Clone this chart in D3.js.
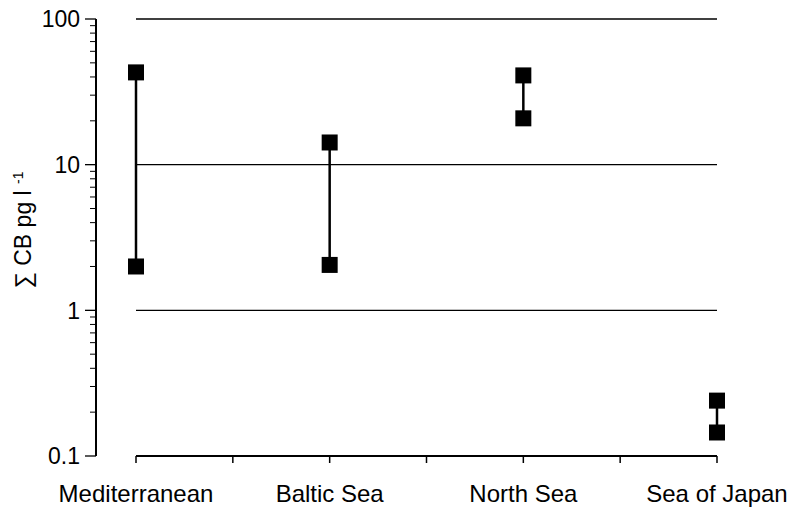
<!DOCTYPE html>
<html>
<head>
<meta charset="utf-8">
<script src="https://cdn.jsdelivr.net/npm/d3@7"></script>
<style>
    body { margin: 0; background: #fff; }
    svg { display: block; font-family: "Liberation Sans", Arial, sans-serif; }
</style>
</head>
<body>
<div id="chart"></div>
<script>
// sea regions and their min / max sum of CB concentrations (pg/l)
const regions = ['Mediterranean', 'Baltic Sea', 'North Sea', 'Sea of Japan'];
const highValues = [43, 14.2, 41, 0.24];
const lowValues = [2.0, 2.05, 20.8, 0.145];
const yTicks = [0.1, 1, 10, 100];
const yTickLabels = ['0.1', '1', '10', '100'];

const width = 789;
const height = 515;

const svg = d3.select('#chart')
    .append('svg')
    .attr('width', width)
    .attr('height', height);

const x = d3.scaleLinear()
    .domain([0, regions.length - 1])
    .range([136, 717]);

const y = d3.scaleLog()
    .domain([0.1, 100])
    .range([456, 19]);

// horizontal grid lines, the 0.1 one doubles as x axis
svg.append('g')
    .selectAll('line')
    .data(yTicks)
    .enter().append('line')
    .attr('x1', x(0))
    .attr('x2', x(regions.length - 1))
    .attr('y1', d => y(d))
    .attr('y2', d => y(d))
    .attr('stroke', '#000')
    .attr('stroke-width', d => d === 0.1 ? 2 : 1.3);

// x ticks at every half step
const xTickVals = d3.range(0, regions.length - 0.5 + 0.01, 0.5);
svg.append('g')
    .selectAll('line')
    .data(xTickVals)
    .enter().append('line')
    .attr('x1', d => x(d))
    .attr('x2', d => x(d))
    .attr('y1', y(0.1))
    .attr('y2', y(0.1) + 7)
    .attr('stroke', '#000')
    .attr('stroke-width', 1.5);

svg.append('g')
    .selectAll('text')
    .data(regions)
    .enter().append('text')
    .attr('x', (d, i) => x(i))
    .attr('y', 502)
    .attr('text-anchor', 'middle')
    .attr('font-size', 24)
    .text(d => d);

// y axis
const yAxis = svg.append('g');
yAxis.append('line')
    .attr('x1', 96).attr('x2', 96)
    .attr('y1', y(100)).attr('y2', y(0.1))
    .attr('stroke', '#000')
    .attr('stroke-width', 2);

const minorTicks = [];
[0.1, 1, 10].forEach(base => {
    for (let k = 2; k <= 9; k++) minorTicks.push(base * k);
});

yAxis.selectAll('.minor')
    .data(minorTicks)
    .enter().append('line')
    .attr('class', 'minor')
    .attr('x1', 90).attr('x2', 96)
    .attr('y1', d => y(d)).attr('y2', d => y(d))
    .attr('stroke', '#000')
    .attr('stroke-width', 1);

yAxis.selectAll('.major')
    .data(yTicks)
    .enter().append('line')
    .attr('class', 'major')
    .attr('x1', 85).attr('x2', 96)
    .attr('y1', d => y(d)).attr('y2', d => y(d))
    .attr('stroke', '#000')
    .attr('stroke-width', 1.3);

yAxis.selectAll('text')
    .data(yTicks)
    .enter().append('text')
    .attr('x', 80)
    .attr('y', d => y(d))
    .attr('dy', '0.36em')
    .attr('text-anchor', 'end')
    .attr('font-size', 23)
    .text((d, i) => yTickLabels[i]);

// y axis title
const title = svg.append('text')
    .attr('transform', 'translate(31,230) rotate(-90)')
    .attr('text-anchor', 'middle')
    .attr('font-size', 23);
title.append('tspan').text('\u2211 CB pg l ');
title.append('tspan').attr('font-size', 14).attr('dy', -8).text('-1');

// range bars
const ranges = regions.map((r, i) => ({ region: r, i: i, low: lowValues[i], high: highValues[i] }));

svg.append('g')
    .selectAll('line')
    .data(ranges)
    .enter().append('line')
    .attr('x1', d => x(d.i))
    .attr('x2', d => x(d.i))
    .attr('y1', d => y(d.high))
    .attr('y2', d => y(d.low))
    .attr('stroke', '#000')
    .attr('stroke-width', 2.5);

const size = 16;
const points = [];
ranges.forEach(d => {
    points.push({ i: d.i, v: d.high });
    points.push({ i: d.i, v: d.low });
});

svg.append('g')
    .selectAll('rect')
    .data(points)
    .enter().append('rect')
    .attr('x', d => x(d.i) - size / 2)
    .attr('y', d => y(d.v) - size / 2)
    .attr('width', size)
    .attr('height', size)
    .attr('fill', '#000');
</script>
</body>
</html>
